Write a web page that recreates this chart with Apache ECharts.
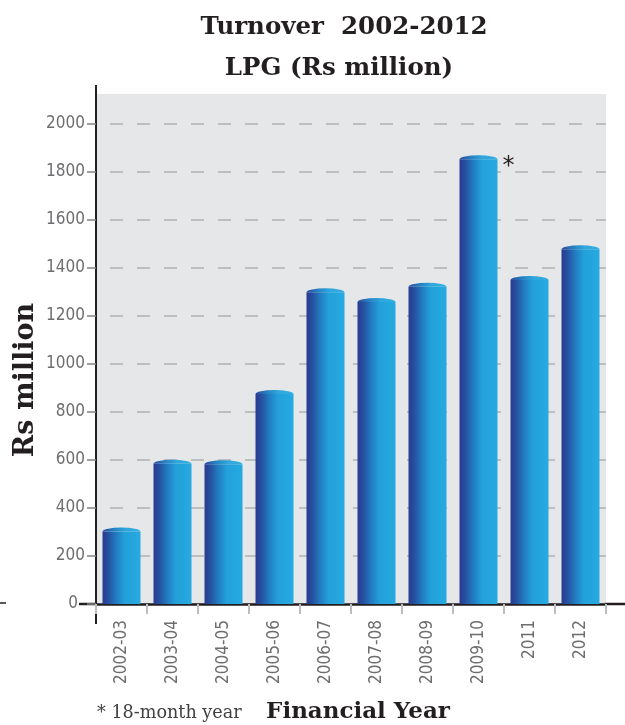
<!DOCTYPE html>
<html>
<head>
<meta charset="utf-8">
<script src="https://cdn.jsdelivr.net/npm/echarts@6/dist/echarts.min.js"></script>
<style>
html,body{margin:0;padding:0;background:#fff;}
#main{width:625px;height:725px;}
</style>
</head>
<body>
<div id="main"></div>
<script>
const categories = ['2002-03','2003-04','2004-05','2005-06','2006-07','2007-08','2008-09','2009-10','2011','2012'];
const turnover = [302, 584, 582, 875, 1299, 1258, 1322, 1853, 1350, 1478];
const notes = ['', '', '', '', '', '', '', '*', '', ''];
const yTicks = [0, 200, 400, 600, 800, 1000, 1200, 1400, 1600, 1800, 2000];
const titleLines = ['Turnover  2002-2012', 'LPG (Rs million)'];
const yTitle = 'Rs million';
const xTitle = 'Financial Year';
const footnote = '* 18-month year';

const chart = echarts.init(document.getElementById('main'), null, {renderer: 'canvas'});
const labelFont = "'Liberation Sans Narrow','DejaVu Sans Condensed',sans-serif";
const slab = "'DejaVu Serif',serif";

function bodyGradient() {
  return new echarts.graphic.LinearGradient(0, 0, 1, 0, [
    {offset: 0, color: '#2a3a8f'},
    {offset: 0.15, color: '#26509f'},
    {offset: 0.35, color: '#2279bf'},
    {offset: 0.58, color: '#23a0d9'},
    {offset: 1, color: '#26aae1'}
  ]);
}
function capGradient() {
  return new echarts.graphic.LinearGradient(0, 0, 1, 0, [
    {offset: 0, color: '#2d4a9c'},
    {offset: 0.3, color: '#2780c3'},
    {offset: 0.6, color: '#2fa6dc'},
    {offset: 1, color: '#34aee3'}
  ]);
}

const option = {
  animation: false,
  grid: {left: 96, right: 19, top: 94, bottom: 121, show: true, backgroundColor: '#e6e7e8', borderWidth: 0, containLabel: false},
  xAxis: {
    type: 'category',
    data: categories,
    boundaryGap: true,
    axisLine: {show: true, lineStyle: {color: '#231f20', width: 2.5}},
    axisTick: {show: true, length: 10, lineStyle: {color: '#bcbec0', width: 2}},
    axisLabel: {rotate: 90, margin: 16, fontFamily: labelFont, fontSize: 17, color: '#6d6e70'},
    splitLine: {show: false}
  },
  yAxis: {
    type: 'value',
    min: 0,
    max: 2125,
    interval: 200,
    axisLine: {show: true, lineStyle: {color: '#231f20', width: 2}},
    axisTick: {show: true, inside: false, length: 9, lineStyle: {color: '#808285', width: 1.5}},
    axisLabel: {
      margin: 11, customValues: yTicks, fontFamily: labelFont, fontSize: 17, color: '#6d6e70',
      formatter: function (v) { return v === 0 ? '{z|0}' : String(v); },
      rich: {z: {fontFamily: labelFont, fontSize: 17, color: '#6d6e70', padding: [0, 7, 0, 0]}}
    },
    splitLine: {show: true, showMaxLine: false, lineStyle: {color: '#bcbec0', width: 2, type: [13, 14], dashOffset: -14}}
  },
  series: [{
    type: 'custom',
    data: turnover.map((v, i) => [i, v]),
    encode: {x: 0, y: 1},
    clip: false,
    renderItem: function (params, api) {
      const idx = api.value(0);
      const v = api.value(1);
      const top = api.coord([idx, v]);
      const base = api.coord([idx, 0]);
      const w = api.size([1, 0])[0] * 0.745;
      const x0 = top[0] - w / 2, x1 = top[0] + w / 2;
      const ry = 4;
      const children = [
        {type: 'rect', shape: {x: x0, y: top[1], width: w, height: base[1] - top[1]}, style: {fill: bodyGradient()}},
        {type: 'path', shape: {pathData: 'M' + x0 + ' ' + top[1] + ' A' + (w / 2) + ' ' + ry + ' 0 0 1 ' + x1 + ' ' + top[1] + ' Z'}, style: {fill: capGradient()}}
      ];
      const note = notes[idx];
      if (note) {
        children.push({type: 'text', style: {text: note, x: x1 + 5, y: top[1] + 7, fontFamily: "'DejaVu Sans',sans-serif", fontSize: 24, fill: '#231f20', align: 'left', verticalAlign: 'middle'}});
      }
      return {type: 'group', children: children};
    }
  }],
  graphic: [
    {type: 'text', x: 344, y: 28, style: {text: titleLines[0], fontFamily: slab, fontWeight: 'bold', fontSize: 24.5, fill: '#231f20', align: 'center', verticalAlign: 'middle'}},
    {type: 'text', x: 339, y: 69, style: {text: titleLines[1], fontFamily: slab, fontWeight: 'bold', fontSize: 24.5, fill: '#231f20', align: 'center', verticalAlign: 'middle'}},
    {type: 'text', x: 26, y: 380, rotation: Math.PI / 2, style: {text: yTitle, fontFamily: slab, fontWeight: 'bold', fontSize: 27, fill: '#231f20', align: 'center', verticalAlign: 'middle'}},
    {type: 'text', x: 358, y: 712, style: {text: xTitle, fontFamily: slab, fontWeight: 'bold', fontSize: 23, fill: '#231f20', align: 'center', verticalAlign: 'middle'}},
    {type: 'text', x: 97, y: 713, style: {text: footnote, fontFamily: slab, fontSize: 17.6, fill: '#414042', align: 'left', verticalAlign: 'middle'}},
    {type: 'rect', z: 100, shape: {x: 83, y: 91, width: 12, height: 6}, style: {fill: '#ffffff'}},
    {type: 'line', z: 101, shape: {x1: 96, y1: 85, x2: 96, y2: 100}, style: {stroke: '#231f20', lineWidth: 2}},
    {type: 'line', shape: {x1: 96, y1: 603, x2: 96, y2: 624}, style: {stroke: '#231f20', lineWidth: 2}},
    {type: 'line', shape: {x1: 79, y1: 604, x2: 97, y2: 604}, style: {stroke: '#231f20', lineWidth: 2.5}},
    {type: 'line', shape: {x1: 605, y1: 604, x2: 625, y2: 604}, style: {stroke: '#231f20', lineWidth: 2.5}},
    {type: 'line', shape: {x1: 0, y1: 603, x2: 6, y2: 603}, style: {stroke: '#231f20', lineWidth: 1.5}}
  ]
};
chart.setOption(option);
</script>
</body>
</html>
